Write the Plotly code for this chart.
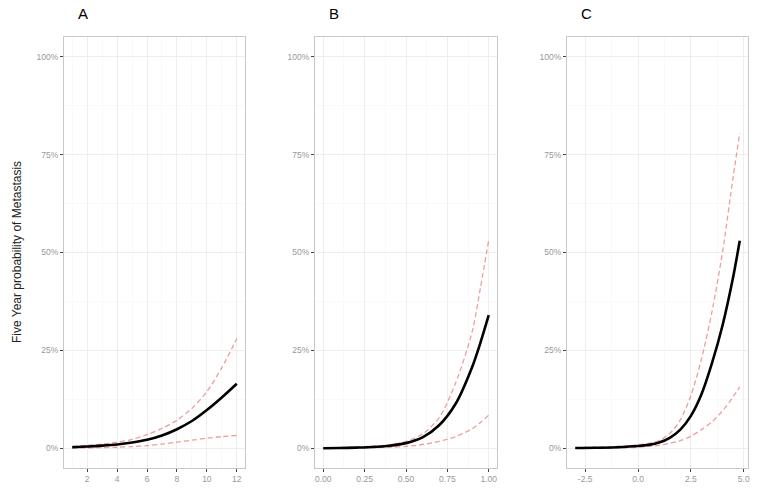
import plotly.graph_objects as go

# ---------------- data ----------------
a_x = [1, 2, 3, 4, 5, 6, 7, 8, 9, 10, 11, 12]
a_fit = [0.3, 0.5, 0.7, 1.0, 1.5, 2.2, 3.3, 4.9, 7.0, 9.8, 13.0, 16.5]
a_upper = [0.6, 0.8, 1.1, 1.6, 2.3, 3.5, 5.1, 7.2, 10.2, 14.5, 20.6, 28.0]
a_lower = [0.1, 0.15, 0.2, 0.3, 0.45, 0.7, 1.1, 1.6, 2.1, 2.6, 3.0, 3.3]

b_x = [0, 0.1, 0.2, 0.3, 0.4, 0.5, 0.6, 0.7, 0.8, 0.9, 0.95, 1.0]
b_fit = [0.05, 0.1, 0.2, 0.35, 0.7, 1.35, 2.8, 5.9, 11.4, 20.8, 27.0, 34.0]
b_upper = [0.1, 0.2, 0.35, 0.55, 0.95, 1.8, 3.7, 7.8, 16.7, 29.8, 41.0, 53.2]
b_lower = [0.0, 0.05, 0.1, 0.2, 0.3, 0.5, 1.0, 1.8, 3.0, 5.0, 6.6, 8.5]

c_x = [-2.97, -2, -1, 0, 0.5, 1, 1.5, 2, 2.5, 3, 3.5, 4, 4.5, 4.81]
c_fit = [0.1, 0.15, 0.3, 0.6, 0.9, 1.5, 2.7, 4.8, 8.3, 13.8, 21.8, 31.5, 43.8, 53.0]
c_upper = [0.2, 0.3, 0.5, 0.9, 1.3, 2.0, 3.8, 7.3, 13.5, 22.8, 35.0, 50.3, 69.4, 80.5]
c_lower = [0.0, 0.05, 0.1, 0.3, 0.5, 0.8, 1.3, 2.0, 3.1, 4.8, 6.8, 9.6, 13.2, 15.7]

panel_labels = ["A", "B", "C"]
a_ticks = [2, 4, 6, 8, 10, 12]
a_ticktext = ["2", "4", "6", "8", "10", "12"]
b_ticks = [0, 0.25, 0.5, 0.75, 1.0]
b_ticktext = ["0.00", "0.25", "0.50", "0.75", "1.00"]
c_ticks = [-2.5, 0, 2.5, 5.0]
c_ticktext = ["-2.5", "0.0", "2.5", "5.0"]
y_ticks = [0, 0.25, 0.5, 0.75, 1.0]
y_ticktext = ["0%", "25%", "50%", "75%", "100%"]
y_title = "Five Year probability of Metastasis"

# ---------------- figure ----------------
W, H = 762, 493
fig = go.Figure()

panels = [
    (a_x, a_fit, a_upper, a_lower, a_ticks, a_ticktext, [0.45, 12.55], (64, 245)),
    (b_x, b_fit, b_upper, b_lower, b_ticks, b_ticktext, [-0.05, 1.05], (315, 497)),
    (c_x, c_fit, c_upper, c_lower, c_ticks, c_ticktext, [-3.36, 5.2], (567, 748)),
]

top_px, bot_px = 37, 468
ydom = [(H - bot_px) / H, (H - top_px) / H]

dash_col = "rgba(225,95,95,0.6)"

def mids(v, lo, hi):
    step = v[1] - v[0]
    out = []
    t = v[0] - step / 2
    while t < hi:
        if t > lo:
            out.append(t)
        t += step
    return out

for i, (x, fit, up, lo, tv, tt, xr, (l, r)) in enumerate(panels):
    n = "" if i == 0 else str(i + 1)
    xa, ya = "x" + n, "y" + n
    for ser, col, w, dash in [
        (up, dash_col, 1.3, "5px,3px"),
        (lo, dash_col, 1.3, "5px,3px"),
        (fit, "black", 2.6, "solid"),
    ]:
        fig.add_trace(go.Scatter(
            x=x, y=[v / 100 for v in ser], mode="lines",
            line=dict(color=col, width=w, dash=dash, shape="spline", smoothing=0.8),
            xaxis=xa, yaxis=ya, showlegend=False, hoverinfo="skip"))
    axis_common = dict(
        showline=True, mirror=True, linecolor="#C8C8C8", linewidth=1,
        ticks="outside", ticklen=3, tickcolor="#444", tickwidth=1,
        tickfont=dict(family="Liberation Sans, Arial", size=8.5, color="#999999"),
        showgrid=True, gridcolor="#EEEEEE", gridwidth=1, zeroline=False,
        automargin=False, fixedrange=True,
    )
    fig.update_layout(**{
        ("xaxis" + n): dict(
            domain=[l / W, r / W], range=xr, anchor=ya,
            tickmode="array", tickvals=tv, ticktext=tt,
            minor=dict(tickvals=mids(tv, xr[0], xr[1]), showgrid=True,
                       gridcolor="#F5F5F5", gridwidth=0.6, ticklen=0),
            **axis_common),
        ("yaxis" + n): dict(
            domain=ydom, range=[-0.05, 1.05], anchor=xa,
            tickmode="array", tickvals=y_ticks, ticktext=y_ticktext,
            minor=dict(tickvals=mids(y_ticks, -0.05, 1.05), showgrid=True,
                       gridcolor="#F5F5F5", gridwidth=0.6, ticklen=0),
            **axis_common),
    })
    fig.add_annotation(
        text=panel_labels[i], xref="paper", yref="paper",
        x=(l + 19) / W, y=(H - 14) / H, showarrow=False,
        font=dict(family="Liberation Sans, Arial", size=15, color="black"),
        xanchor="center", yanchor="middle")

fig.add_annotation(
    text=y_title, xref="paper", yref="paper", x=17 / W, y=(H - 252) / H,
    textangle=-90, showarrow=False, xanchor="center", yanchor="middle",
    font=dict(family="Liberation Sans, Arial", size=12, color="#222222"))

fig.update_layout(
    width=W, height=H, margin=dict(l=0, r=0, t=0, b=0),
    paper_bgcolor="white", plot_bgcolor="white",
)

fig.write_html(
    "out.html",
    config={"displayModeBar": False, "staticPlot": True},
    post_script="document.body.style.margin='0';document.body.style.overflow='hidden';",
)
